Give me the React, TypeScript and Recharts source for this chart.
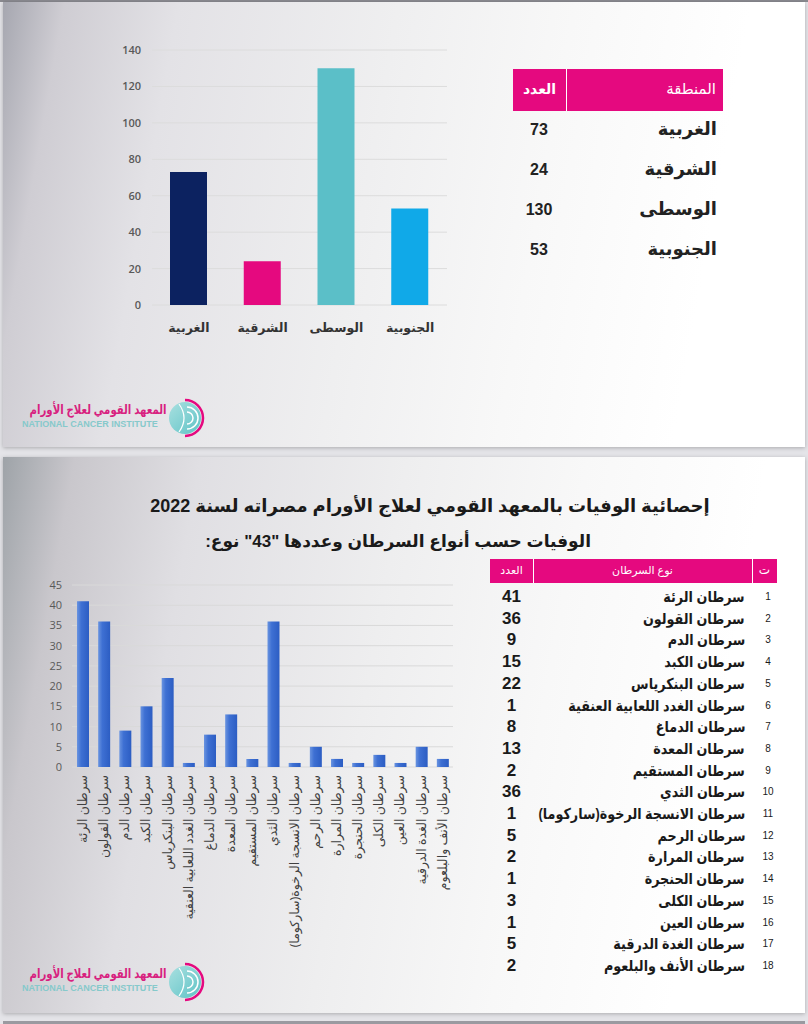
import React from "react";
import { BarChart, Bar, XAxis, YAxis, CartesianGrid, Cell } from "recharts";

const regions = ["الغربية", "الشرقية", "الوسطى", "الجنوبية"];
const regionCounts = [73, 24, 130, 53];
const regionColors = ["#0c2260", "#e5097f", "#5bbfc8", "#10a9e8"];
const regionTicks = [0, 20, 40, 60, 80, 100, 120, 140];

const cancerTypes = [
  "سرطان الرئة",
  "سرطان القولون",
  "سرطان الدم",
  "سرطان الكبد",
  "سرطان البنكرياس",
  "سرطان الغدد اللعابية العنقية",
  "سرطان الدماغ",
  "سرطان المعدة",
  "سرطان المستقيم",
  "سرطان الثدي",
  "سرطان الانسجة الرخوة(ساركوما)",
  "سرطان الرحم",
  "سرطان المرارة",
  "سرطان الحنجرة",
  "سرطان الكلى",
  "سرطان العين",
  "سرطان الغدة الدرقية",
  "سرطان الأنف والبلعوم",
];
const cancerDeaths = [41, 36, 9, 15, 22, 1, 8, 13, 2, 36, 1, 5, 2, 1, 3, 1, 5, 2];
const cancerTicks = [0, 5, 10, 15, 20, 25, 30, 35, 40, 45];

const TITLE = "إحصائية الوفيات بالمعهد القومي لعلاج الأورام مصراته لسنة 2022";
const SUBTITLE = 'الوفيات حسب أنواع السرطان وعددها "43" نوع:';

const PINK = "#e5097f";
const AR = "'Liberation Sans', 'DejaVu Sans', sans-serif";
const AXIS = "'Open Sans', 'DejaVu Sans', sans-serif";

const regionData = regions.map((name, i) => ({ name, value: regionCounts[i] }));
const cancerData = cancerTypes.map((name, i) => ({ name, value: cancerDeaths[i] }));

// ---- ticks ----
function RegionXTick({ x, y, payload }: any) {
  return (
    <text x={x} y={y + 27} textAnchor="middle" fontSize={12.5} fontWeight={700} fill="#333" fontFamily={AXIS}>
      {payload.value}
    </text>
  );
}
function RegionYTick({ x, y, payload }: any) {
  return (
    <text x={x - 11} y={y + 4} textAnchor="end" fontSize={11} fontWeight={600} fill="#595959" fontFamily={AXIS}>
      {payload.value}
    </text>
  );
}
function CancerXTick({ x, y, payload }: any) {
  return (
    <text
      x={x}
      y={y + 8}
      dy="0.35em"
      transform={`rotate(-90, ${x}, ${y + 8})`}
      textAnchor="start"
      direction="rtl"
      fontSize={12.5}
      fill="#404040"
      fontFamily={AXIS}
    >
      {payload.value}
    </text>
  );
}
function CancerYTick({ x, y, payload }: any) {
  return (
    <text x={x - 10} y={y + 4} textAnchor="end" fontSize={11} fill="#595959" fontFamily={AXIS}>
      {payload.value}
    </text>
  );
}

// ---- logo ----
function Logo({ top }: { top: number }) {
  return (
    <div style={{ position: "absolute", left: 20, top, width: 190, height: 40 }}>
      <div
        dir="rtl"
        style={{
          position: "absolute",
          right: 43,
          top: 4,
          fontFamily: AR,
          fontWeight: 700,
          fontSize: 13,
          color: "#d8217f",
          whiteSpace: "nowrap",
          transform: "scaleX(0.78)",
          transformOrigin: "right center",
        }}
      >
        المعهد القومي لعلاج الأورام
      </div>
      <div
        style={{
          position: "absolute",
          left: 2,
          top: 21,
          fontFamily: "'Liberation Sans', sans-serif",
          fontWeight: 700,
          fontSize: 9,
          color: "#86c9cb",
          whiteSpace: "nowrap",
        }}
      >
        NATIONAL CANCER INSTITUTE
      </div>
      <svg width={40} height={40} style={{ position: "absolute", left: 146, top: 0 }}>
        <defs>
          <linearGradient id={`lg${top}`} x1="0" y1="0" x2="1" y2="1">
            <stop offset="0%" stopColor="#a9e0e0" />
            <stop offset="100%" stopColor="#5fc3c6" />
          </linearGradient>
        </defs>
        <circle cx={19} cy={20} r={16} fill={`url(#lg${top})`} />
        <path d="M 19 2 A 18 18 0 0 1 19 38" stroke={PINK} strokeWidth={2.5} fill="none" />
        <path d="M 21 9 A 11 11 0 0 1 21 31" stroke="#fff" strokeWidth={1.5} fill="none" />
        <path d="M 21 14 A 6 6 0 0 1 21 26" stroke="#fff" strokeWidth={1.5} fill="none" />
        <path d="M 13 6 Q 23 20 13 34" stroke="#fff" strokeWidth={1.2} fill="none" />
      </svg>
    </div>
  );
}

const slideBg =
  "linear-gradient(100deg, #a6a7b0 0%, #cfcdd3 7%, #e3e2e6 20%, #efeff0 45%, #f8f8f8 65%, #ffffff 85%)";

export default function App() {
  return (
    <div
      style={{
        position: "absolute",
        left: 0,
        top: 0,
        width: 808,
        height: 1024,
        overflow: "hidden",
        background: "#e4e4e8",
      }}
    >
      <div style={{ position: "absolute", left: 0, top: 0, width: 808, height: 2, background: "#8a8a90" }} />
      {/* slide 1 */}
      <div
        style={{
          position: "absolute",
          left: 3,
          top: 2,
          width: 802,
          height: 445,
          background: slideBg,
          boxShadow: "0 1px 4px rgba(0,0,0,0.25)",
        }}
      />
      {/* slide 2 */}
      <div
        style={{
          position: "absolute",
          left: 3,
          top: 457,
          width: 802,
          height: 556,
          background:
            "linear-gradient(100deg, #9ea3a8 0%, #c9c7cc 8%, #e0dfe3 22%, #eeeeef 45%, #f8f8f8 65%, #ffffff 85%)",
          boxShadow: "0 1px 4px rgba(0,0,0,0.25)",
        }}
      />
      <div style={{ position: "absolute", left: 3, top: 1021, width: 802, height: 3, background: "#9a9aa0" }} />

      {/* chart 1 */}
      <div style={{ position: "absolute", left: 0, top: 0 }}>
        <BarChart
          width={460}
          height={345}
          data={regionData}
          margin={{ top: 50, right: 13, left: 112, bottom: 10 }}
          barSize={37}
        >
          <CartesianGrid vertical={false} stroke="#dcdcdc" />
          <XAxis
            dataKey="name"
            height={30}
            axisLine={false}
            tickLine={false}
            tickSize={0}
            tickMargin={0}
            tick={<RegionXTick />}
            interval={0}
          />
          <YAxis
            width={40}
            domain={[0, 140]}
            ticks={regionTicks}
            interval={0}
            axisLine={false}
            tickLine={false}
            tickSize={0}
            tickMargin={0}
            tick={<RegionYTick />}
          />
          <Bar dataKey="value" isAnimationActive={false}>
            {regionData.map((d, i) => (
              <Cell key={d.name} fill={regionColors[i]} />
            ))}
          </Bar>
        </BarChart>
      </div>

      {/* table 1 */}
      <div style={{ position: "absolute", left: 513, top: 69, width: 210, height: 42, background: PINK }}>
        <div style={{ position: "absolute", left: 53, top: 0, width: 1, height: 42, background: "#fff" }} />
        <div
          style={{
            position: "absolute",
            left: 0,
            width: 53,
            top: 12,
            textAlign: "center",
            color: "#fff",
            fontFamily: AR,
            fontWeight: 700,
            fontSize: 14,
          }}
        >
          العدد
        </div>
        <div
          dir="rtl"
          style={{
            position: "absolute",
            right: 7,
            top: 11,
            color: "#fff",
            fontFamily: AR,
            fontSize: 15,
          }}
        >
          المنطقة
        </div>
      </div>
      {regions.map((r, i) => (
        <React.Fragment key={r}>
          <div
            style={{
              position: "absolute",
              left: 513,
              width: 52,
              top: 121 + i * 40,
              textAlign: "center",
              fontFamily: AR,
              fontWeight: 700,
              fontSize: 16,
              color: "#222",
            }}
          >
            {regionCounts[i]}
          </div>
          <div
            dir="rtl"
            style={{
              position: "absolute",
              right: 808 - 717,
              top: 118 + i * 40,
              fontFamily: AR,
              fontWeight: 700,
              fontSize: 18,
              color: "#222",
              whiteSpace: "nowrap",
            }}
          >
            {r}
          </div>
        </React.Fragment>
      ))}

      <Logo top={398} />

      {/* slide 2 titles */}
      <div
        dir="rtl"
        style={{
          position: "absolute",
          left: 0,
          width: 860,
          top: 495,
          textAlign: "center",
          fontFamily: AR,
          fontWeight: 700,
          fontSize: 18,
          color: "#1a1a1a",
          whiteSpace: "nowrap",
        }}
      >
        {TITLE}
      </div>
      <div
        dir="rtl"
        style={{
          position: "absolute",
          right: 808 - 591,
          top: 531,
          fontFamily: AR,
          fontWeight: 700,
          fontSize: 17,
          color: "#1a1a1a",
          whiteSpace: "nowrap",
        }}
      >
        {SUBTITLE}
      </div>

      {/* chart 2 */}
      <div style={{ position: "absolute", left: 0, top: 540 }}>
        <BarChart
          width={470}
          height={412}
          data={cancerData}
          margin={{ top: 45, right: 17, left: 42, bottom: 5 }}
          barSize={12}
        >
          <defs>
            <linearGradient id="blueBar" x1="0" y1="0" x2="1" y2="0">
              <stop offset="0%" stopColor="#6a94e0" />
              <stop offset="35%" stopColor="#3e70d3" />
              <stop offset="100%" stopColor="#2c5dc3" />
            </linearGradient>
          </defs>
          <CartesianGrid vertical={false} stroke="#d9d9d9" />
          <XAxis
            dataKey="name"
            height={180}
            axisLine={false}
            tickLine={false}
            tickSize={0}
            tickMargin={0}
            tick={<CancerXTick />}
            interval={0}
          />
          <YAxis
            width={30}
            domain={[0, 45]}
            ticks={cancerTicks}
            interval={0}
            axisLine={false}
            tickLine={false}
            tickSize={0}
            tickMargin={0}
            tick={<CancerYTick />}
          />
          <Bar dataKey="value" fill="url(#blueBar)" isAnimationActive={false} />
        </BarChart>
      </div>

      {/* table 2 */}
      <div style={{ position: "absolute", left: 490, top: 559, width: 287, height: 24, background: PINK }}>
        <div style={{ position: "absolute", left: 43, top: 0, width: 1, height: 24, background: "#fff" }} />
        <div style={{ position: "absolute", left: 262, top: 0, width: 1, height: 24, background: "#fff" }} />
        <div
          style={{
            position: "absolute",
            left: 0,
            width: 43,
            top: 5,
            textAlign: "center",
            color: "#fff",
            fontFamily: AR,
            fontSize: 11,
          }}
        >
          العدد
        </div>
        <div
          dir="rtl"
          style={{
            position: "absolute",
            left: 43,
            width: 219,
            top: 5,
            textAlign: "center",
            color: "#fff",
            fontFamily: AR,
            fontSize: 11,
          }}
        >
          نوع السرطان
        </div>
        <div
          style={{
            position: "absolute",
            left: 262,
            width: 25,
            top: 4,
            textAlign: "center",
            color: "#fff",
            fontFamily: AR,
            fontSize: 12,
          }}
        >
          ت
        </div>
      </div>
      {cancerTypes.map((c, i) => {
        const cy = 597 + i * 21.7;
        return (
          <React.Fragment key={c}>
            <div
              style={{
                position: "absolute",
                left: 490,
                width: 43,
                top: cy - 10,
                textAlign: "center",
                fontFamily: AR,
                fontWeight: 700,
                fontSize: 17,
                lineHeight: "20px",
                color: "#1a1a1a",
              }}
            >
              {cancerDeaths[i]}
            </div>
            <div
              dir="rtl"
              style={{
                position: "absolute",
                right: 808 - 745,
                top: cy - 11,
                fontFamily: AR,
                fontWeight: 700,
                fontSize: 15,
                lineHeight: "22px",
                color: "#1a1a1a",
                whiteSpace: "nowrap",
                transform: "scaleX(0.85)",
                transformOrigin: "right center",
              }}
            >
              {c}
            </div>
            <div
              style={{
                position: "absolute",
                left: 755,
                width: 26,
                top: cy - 7,
                textAlign: "center",
                fontFamily: AR,
                fontSize: 10,
                lineHeight: "14px",
                color: "#1a1a1a",
              }}
            >
              {i + 1}
            </div>
          </React.Fragment>
        );
      })}

      <Logo top={962} />
    </div>
  );
}
